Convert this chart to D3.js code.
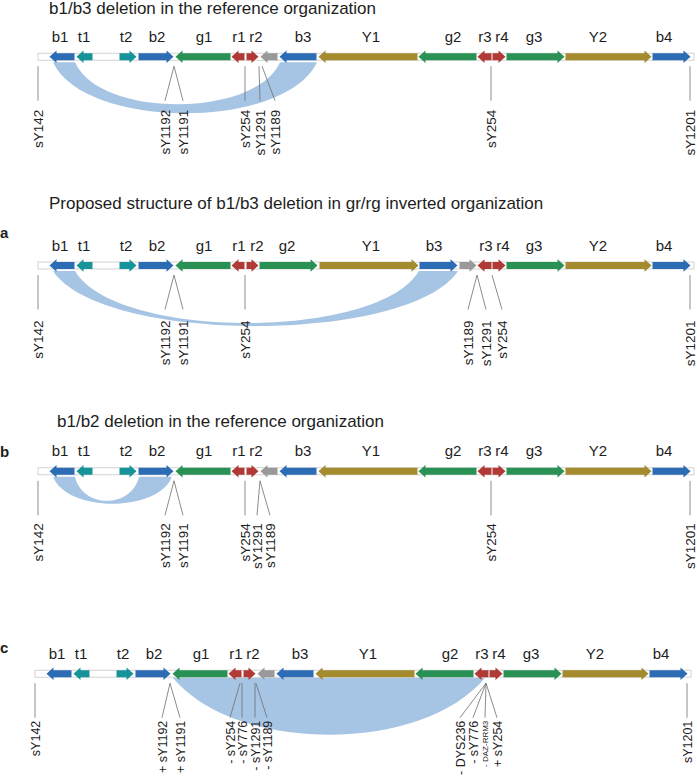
<!DOCTYPE html>
<html><head><meta charset="utf-8">
<script src="https://cdn.jsdelivr.net/npm/d3@7"></script>
<style>
body{margin:0;background:#fff}
svg{display:block}
text{font-family:"Liberation Sans",Arial,Helvetica,sans-serif;fill:#1d1d1d}
</style>
</head><body>
<svg id="chart" width="697" height="778"></svg>
<script>
// ---------- DATA (map units along the region) ----------
const regionLength = 656;

// reference organization: label, family, start, end, orientation, label position
const referenceOrganization = [
  {label:"b1", fam:"b", start:11,  end:37,  dir:-1, labelAt:22},
  {label:"t1", fam:"t", start:38,  end:55,  dir:-1, labelAt:46},
  {label:"t2", fam:"t", start:81,  end:99,  dir:1,  labelAt:88},
  {label:"b2", fam:"b", start:100, end:136, dir:1,  labelAt:119},
  {label:"g1", fam:"g", start:137, end:193, dir:-1, labelAt:166},
  {label:"r1", fam:"r", start:193, end:207, dir:-1, labelAt:201},
  {label:"r2", fam:"r", start:208, end:221, dir:1,  labelAt:218},
  {label:"",   fam:"u", start:222, end:240, dir:-1, labelAt:231},
  {label:"b3", fam:"b", start:241, end:279, dir:-1, labelAt:265},
  {label:"Y1", fam:"y", start:280, end:380, dir:-1, labelAt:333},
  {label:"g2", fam:"g", start:380, end:439, dir:-1, labelAt:415},
  {label:"r3", fam:"r", start:439, end:454, dir:-1, labelAt:447},
  {label:"r4", fam:"r", start:454, end:468, dir:1,  labelAt:464},
  {label:"g3", fam:"g", start:468, end:527, dir:1,  labelAt:496},
  {label:"Y2", fam:"y", start:527, end:614, dir:1,  labelAt:560},
  {label:"b4", fam:"b", start:614, end:653, dir:1,  labelAt:626}
];

// gr/rg inverted organization
const invertedOrganization = [
  {label:"b1", fam:"b", start:11,  end:37,  dir:-1, labelAt:22},
  {label:"t1", fam:"t", start:38,  end:55,  dir:-1, labelAt:46},
  {label:"t2", fam:"t", start:81,  end:99,  dir:1,  labelAt:88},
  {label:"b2", fam:"b", start:100, end:136, dir:1,  labelAt:119},
  {label:"g1", fam:"g", start:137, end:193, dir:-1, labelAt:166},
  {label:"r1", fam:"r", start:193, end:207, dir:-1, labelAt:201},
  {label:"r2", fam:"r", start:208, end:221, dir:1,  labelAt:219},
  {label:"g2", fam:"g", start:221, end:280, dir:1,  labelAt:249},
  {label:"Y1", fam:"y", start:281, end:381, dir:1,  labelAt:333},
  {label:"b3", fam:"b", start:381, end:420, dir:1,  labelAt:396},
  {label:"",   fam:"u", start:421, end:439, dir:1,  labelAt:430},
  {label:"r3", fam:"r", start:439, end:454, dir:-1, labelAt:448},
  {label:"r4", fam:"r", start:454, end:468, dir:1,  labelAt:465},
  {label:"g3", fam:"g", start:468, end:527, dir:1,  labelAt:496},
  {label:"Y2", fam:"y", start:527, end:614, dir:1,  labelAt:560},
  {label:"b4", fam:"b", start:614, end:653, dir:1,  labelAt:626}
];

// STS markers: name, position on the map, position of the label
const markersB1B3Ref = [
  {name:"sY142",  at:0,   labelAt:0},
  {name:"sY1192", at:136, labelAt:127},
  {name:"sY1191", at:136, labelAt:145},
  {name:"sY254",  at:207, labelAt:207},
  {name:"sY1291", at:221, labelAt:222},
  {name:"sY1189", at:224, labelAt:237},
  {name:"sY254",  at:453, labelAt:453},
  {name:"sY1201", at:652, labelAt:652}
];
const markersB1B3Inv = [
  {name:"sY142",  at:0,   labelAt:0},
  {name:"sY1192", at:136, labelAt:127},
  {name:"sY1191", at:136, labelAt:145},
  {name:"sY254",  at:207, labelAt:207},
  {name:"sY1189", at:439, labelAt:430},
  {name:"sY1291", at:439, labelAt:448},
  {name:"sY254",  at:454, labelAt:464},
  {name:"sY1201", at:652, labelAt:652}
];
const markersB1B2Ref = [
  {name:"sY142",  at:0,   labelAt:0},
  {name:"sY1192", at:136, labelAt:127},
  {name:"sY1191", at:136, labelAt:145},
  {name:"sY254",  at:207, labelAt:207},
  {name:"sY1291", at:222, labelAt:219},
  {name:"sY1189", at:222, labelAt:232},
  {name:"sY254",  at:453, labelAt:453},
  {name:"sY1201", at:652, labelAt:652}
];
const markersGrGr = [
  {name:"sY142",      at:0,   labelAt:0},
  {name:"+ sY1192",   at:135, labelAt:127},
  {name:"+ sY1191",   at:135, labelAt:145},
  {name:"- sY254",    at:205, labelAt:195},
  {name:"- sY776",    at:207, labelAt:207},
  {name:"- sY1291",   at:220, labelAt:220},
  {name:"- sY1189",   at:221, labelAt:232},
  {name:"- DYS236",   at:451, labelAt:425},
  {name:"- sY776",    at:451, labelAt:438},
  {name:"- DAZ-RRM3", at:451, labelAt:450, small:true},
  {name:"+ sY254",    at:451, labelAt:462},
  {name:"sY1201",     at:652, labelAt:652}
];

// deleted region ribbons: from-copy [start,end], to-copy [start,end]
const deletionB1B3Ref = {from:[15,37], to:[242,279], outerDepth:51, innerDepth:42};
const deletionB1B3Inv = {from:[15,37], to:[381,420], outerDepth:55, innerDepth:52};
const deletionB1B2Ref = {from:[15,37], to:[101,134], outerDepth:27, innerDepth:24};
const deletionGrGr    = {from:[138,138], to:[450,450], outerDepth:57, innerDepth:0};

// ---------- STYLE / LAYOUT ----------
const familyColor = {b:"#2b6cb5", t:"#17939a", g:"#2a9155", r:"#b03a35", u:"#999999", y:"#a38b2e"};
const bandColor = "#a6c4e3";

const panels = [
  {title:"b1/b3 deletion in the reference organization", titleX:49, titleY:13.5,
   letter:null, barY:56.7, x0:38, labGap:53, labSize:13.5, org:referenceOrganization, markers:markersB1B3Ref, band:deletionB1B3Ref},
  {title:"Proposed structure of b1/b3 deletion in gr/rg inverted organization", titleX:49, titleY:208.5,
   letter:"a", letterY:238, barY:265.5, x0:38, labGap:55, labSize:13.5, org:invertedOrganization, markers:markersB1B3Inv, band:deletionB1B3Inv},
  {title:"b1/b2 deletion in the reference organization", titleX:57, titleY:426.7,
   letter:"b", letterY:457, barY:471.3, x0:38, labGap:52, labSize:13.5, org:referenceOrganization, markers:markersB1B2Ref, band:deletionB1B2Ref},
  {title:null, letter:"c", letterY:653, barY:673.7, x0:35, labGap:47, labSize:12.5, org:referenceOrganization, markers:markersGrGr, band:deletionGrGr, fill:true}
];

const svg = d3.select("#chart");
const bodyH = 7, headH = 12.6, headL = 7;

function arrowPath(x1, x2, y, dir) {
  const hl = Math.min(headL, x2 - x1);
  const b = bodyH/2, h = headH/2;
  let pts;
  if (dir > 0) {
    pts = [[x1,y-b],[x2-hl,y-b],[x2-hl,y-h],[x2,y],[x2-hl,y+h],[x2-hl,y+b],[x1,y+b]];
  } else {
    pts = [[x2,y-b],[x1+hl,y-b],[x1+hl,y-h],[x1,y],[x1+hl,y+h],[x1+hl,y+b],[x2,y+b]];
  }
  return d3.line()(pts) + "Z";
}

function bandPath(x, band, yb) {
  const a0 = x(band.from[0]), a1 = x(band.from[1]);
  const b0 = x(band.to[0]), b1 = x(band.to[1]);
  const wo = b1 - a0, wi = b0 - a1;
  const ho = band.outerDepth/0.75, hi = band.innerDepth/0.75;
  const p = d3.path();
  p.moveTo(a0, yb);
  p.bezierCurveTo(a0 + 0.12*wo, yb + ho, b1 - 0.12*wo, yb + ho, b1, yb);
  p.lineTo(b0, yb);
  p.bezierCurveTo(b0 - 0.12*wi, yb + hi, a1 + 0.12*wi, yb + hi, a1, yb);
  p.closePath();
  return p.toString();
}

function fillPath(x, band, yb) {
  const a = x(band.from[0]), b = x(band.to[1]), w = b - a, h = band.outerDepth/0.75;
  const p = d3.path();
  p.moveTo(a, yb);
  p.bezierCurveTo(a + 0.2*w, yb + h, b - 0.2*w, yb + h, b, yb);
  p.closePath();
  return p.toString();
}

panels.forEach(P => {
  const x = d3.scaleLinear().domain([0, regionLength]).range([P.x0, P.x0 + regionLength]);
  const g = svg.append("g");

  if (P.title) {
    g.append("text").attr("x", P.titleX).attr("y", P.titleY)
      .attr("font-size", 17).text(P.title);
  }
  if (P.letter) {
    g.append("text").attr("x", 0).attr("y", P.letterY)
      .attr("font-size", 15).attr("font-weight", "bold").text(P.letter);
  }

  // deletion ribbon / region
  const yb = P.barY + (P.fill ? 4 : 5.5);
  g.append("path")
    .attr("d", P.fill ? fillPath(x, P.band, yb) : bandPath(x, P.band, yb))
    .attr("fill", bandColor);

  // backbone
  g.append("rect")
    .attr("x", x(0)).attr("y", P.barY - bodyH/2)
    .attr("width", x(regionLength) - x(0)).attr("height", bodyH)
    .attr("fill", "#fff").attr("stroke", "#c9c9c9").attr("stroke-width", 0.8);

  // segments
  g.selectAll("path.seg").data(P.org).join("path")
    .attr("class", "seg")
    .attr("d", d => arrowPath(x(d.start) + 0.5, x(d.end) - 0.5, P.barY, d.dir))
    .attr("fill", d => familyColor[d.fam]);

  g.selectAll("text.seglab").data(P.org.filter(d => d.label)).join("text")
    .attr("class", "seglab")
    .attr("x", d => x(d.labelAt)).attr("y", P.barY - 15)
    .attr("text-anchor", "middle").attr("font-size", 15)
    .text(d => d.label);

  // markers
  const lineTop = P.barY + 9.5, lineBot = P.barY + 44, labTop = P.barY + P.labGap;
  g.selectAll("line.mk").data(P.markers).join("line")
    .attr("class", "mk")
    .attr("x1", d => x(d.at)).attr("y1", lineTop)
    .attr("x2", d => x(d.labelAt)).attr("y2", lineBot)
    .attr("stroke", "#6e6e6e").attr("stroke-width", 0.8);

  g.selectAll("text.mklab").data(P.markers).join("text")
    .attr("class", "mklab")
    .attr("transform", d => `translate(${x(d.labelAt)},${labTop}) rotate(-90)`)
    .attr("text-anchor", "end").attr("dy", "0.36em")
    .attr("font-size", d => d.small ? 8 : P.labSize)
    .text(d => d.name);
});
</script>
</body></html>
